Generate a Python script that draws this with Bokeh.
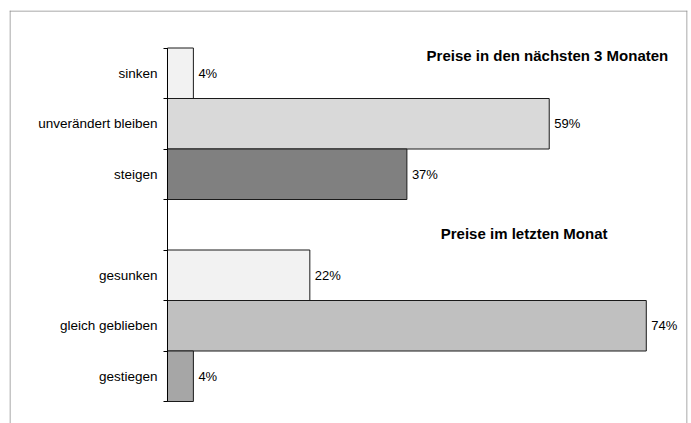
from bokeh.plotting import figure
from bokeh.models import Range1d, FixedTicker, ColumnDataSource, Label, Span
from bokeh.embed import file_html
from bokeh.resources import INLINE
from bokeh.core.properties import value

# Survey answers, top to bottom; an empty slot separates the two blocks
categories = ["sinken", "unverändert bleiben", "steigen", "",
              "gesunken", "gleich geblieben", "gestiegen"]
values = [4, 59, 37, None, 22, 74, 4]
bar_colors = ["#f2f2f2", "#d9d9d9", "#808080", None,
              "#f2f2f2", "#c0c0c0", "#a6a6a6"]
block_titles = ["Preise in den nächsten 3 Monaten", "Preise im letzten Monat"]

FONT = "Liberation Sans"

# one slot per category, slot i spans [i, i+1]
rows = [i for i, v in enumerate(values) if v is not None]
src = ColumnDataSource(dict(
    y=[i + 0.5 for i in rows],
    v=[values[i] for i in rows],
    c=[bar_colors[i] for i in rows],
    t=[f"{values[i]}%" for i in rows],
))

X0, X1 = -24.42, 80.37
Y_BOTTOM, Y_TOP = 7.4356, -0.7426
W, H = 691, 423
ML, MR, MT, MB = 9, 4, 10, 0
px_x = (X1 - X0) / (W - ML - MR)          # data units per pixel, horizontal
px_y = (Y_BOTTOM - Y_TOP) / (H - MT - MB)  # data units per pixel, vertical

# the category axis sits at x=0 inside the frame
p = figure(width=W, height=H, output_backend="svg", toolbar_location=None,
           x_range=Range1d(X0, X1), y_range=Range1d(Y_BOTTOM, Y_TOP),
           x_axis_location=None, min_border_left=ML, min_border_right=MR,
           min_border_top=MT, min_border_bottom=MB)
p.outline_line_color = None
p.grid.visible = False
p.background_fill_color = "white"
p.border_fill_color = "white"

# chart-area border on the left, top and right
for loc, dim in [(X0 + 0.5 * px_x, "height"), (X1 - 0.5 * px_x, "height"),
                 (Y_TOP + 0.5 * px_y, "width")]:
    p.add_layout(Span(location=loc, dimension=dim,
                      line_color="#8c8c8c", line_width=1))

p.hbar(y="y", left=0, right="v", height=1.0, source=src,
       fill_color="c", line_color="#1a1a1a", line_width=1)

p.text(x="v", y="y", text="t", source=src, x_offset=5,
       text_baseline="middle", text_align="left",
       text_font=value(FONT), text_font_size="13px", text_color="#000000")

# category axis: labels centred in each slot, ticks on the slot borders
ax = p.yaxis[0]
ax.fixed_location = 0
centers = [i + 0.5 for i, c in enumerate(categories) if c]
ax.ticker = FixedTicker(ticks=centers,
                        minor_ticks=[float(i) for i in range(len(categories) + 1)])
ax.major_label_overrides = {i + 0.5: c for i, c in enumerate(categories) if c}
ax.bounds = (0, len(categories))
ax.major_tick_out = 0
ax.major_tick_in = 0
ax.minor_tick_out = 4
ax.minor_tick_in = 0
ax.minor_tick_line_color = "#000000"
ax.axis_line_color = "#000000"
ax.major_label_standoff = 6
ax.major_label_text_font = FONT
ax.major_label_text_font_size = "13.5px"
ax.major_label_text_color = "#000000"

# block headings
p.add_layout(Label(x=77.4, y=0.15, text=block_titles[0], text_align="right",
                   text_baseline="middle", text_font=FONT, text_font_size="15px",
                   text_font_style="bold", text_color="#000000"))
p.add_layout(Label(x=68.0, y=3.67, text=block_titles[1], text_align="right",
                   text_baseline="middle", text_font=FONT, text_font_size="15px",
                   text_font_style="bold", text_color="#000000"))

open("out.html", "w").write(file_html(p, INLINE))
